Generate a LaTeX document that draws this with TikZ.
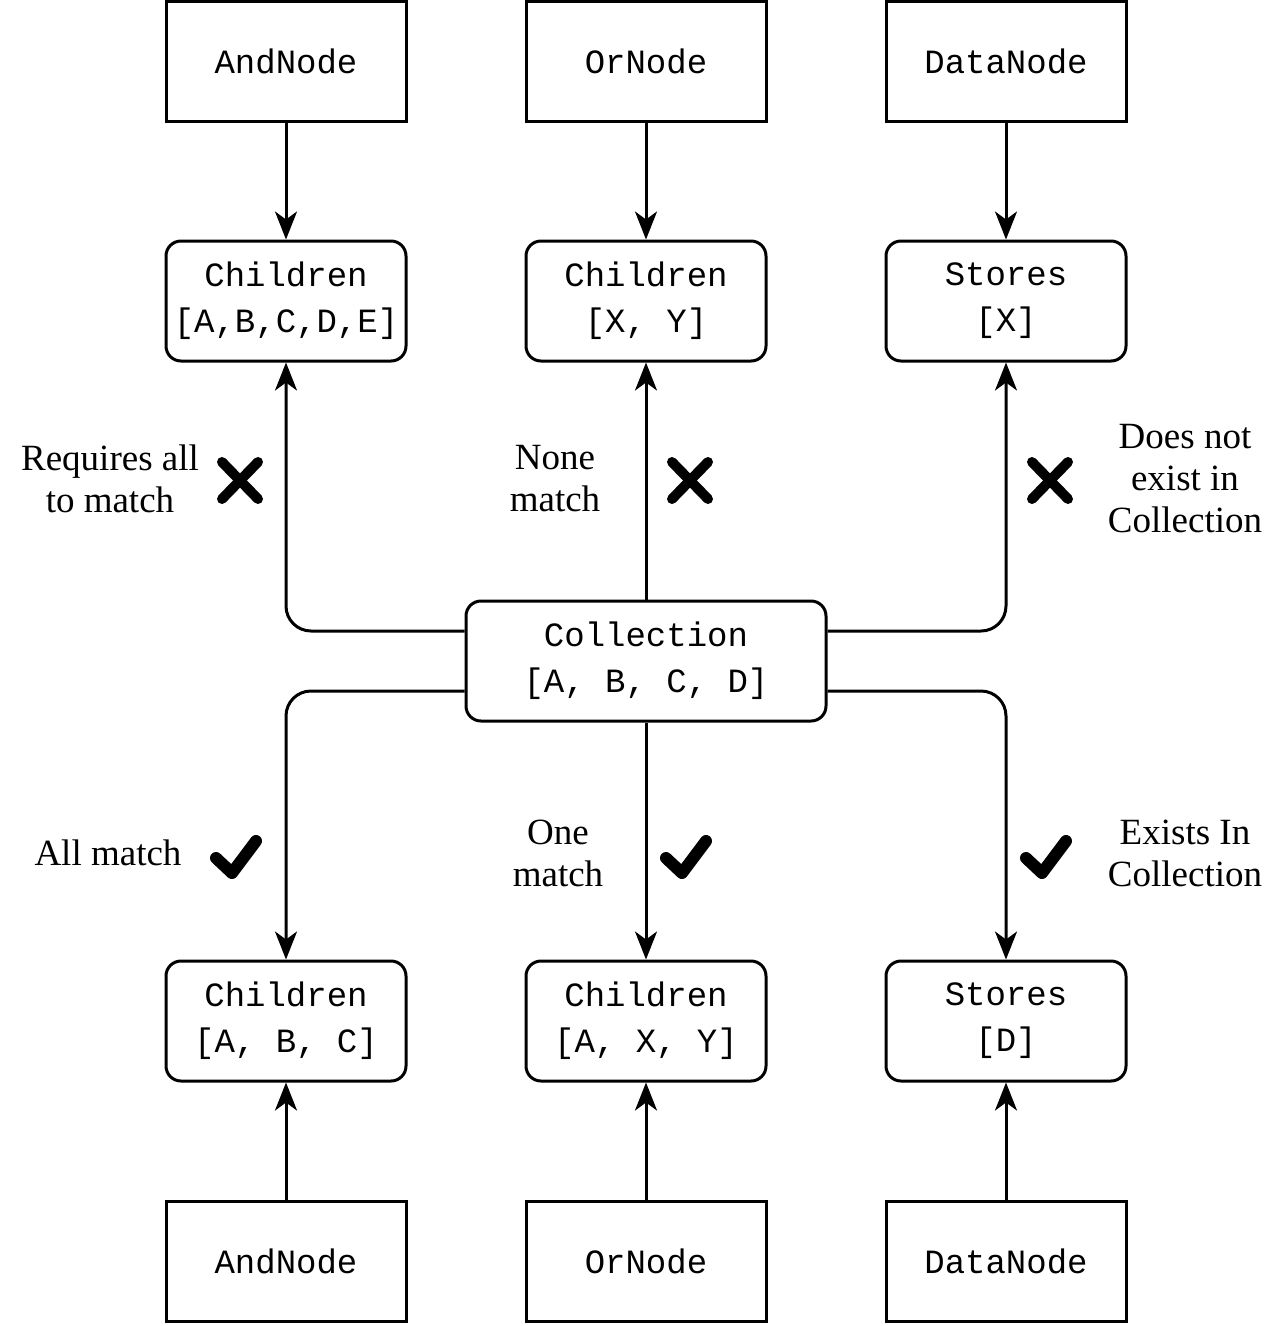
\documentclass[tikz,border=0pt]{standalone}
\usepackage{fontspec}
\setmainfont{Liberation Serif}
\setmonofont{Liberation Mono}
\usetikzlibrary{arrows.meta}
\begin{document}
\begin{tikzpicture}[x=1pt,y=-1pt,
  box/.style={draw,line width=3pt,minimum width=240pt,minimum height=120pt,align=center,inner sep=0pt,
    font=\fontsize{34}{46}\selectfont\ttfamily},
  rbox/.style={box,rounded corners=15pt},
  lbl/.style={align=center,inner sep=0pt,font=\fontsize{37}{42}\selectfont},
  conn/.style={line width=3pt,-{Stealth[length=28pt,width=22pt,inset=8pt]}},
  glyphstroke/.style={line width=10pt,line cap=round,line join=round}
]
\useasboundingbox (0,0) rectangle (1278,1326);
% top row
\node[box] (and1) at (286,61) {AndNode};
\node[box] (or1) at (646,61) {OrNode};
\node[box] (data1) at (1006,61) {DataNode};
\node[rbox] (ch1) at (286,301) {Children\\{}[A,B,C,D,E]};
\node[rbox] (ch2) at (646,301) {Children\\{}[X, Y]};
\node[rbox] (st1) at (1006,301) {Stores\\{}[X]};
% collection
\node[rbox,minimum width=360pt] (col) at (646,661) {Collection\\{}[A, B, C, D]};
% bottom rows
\node[rbox] (ch3) at (286,1021) {Children\\{}[A, B, C]};
\node[rbox] (ch4) at (646,1021) {Children\\{}[A, X, Y]};
\node[rbox] (st2) at (1006,1021) {Stores\\{}[D]};
\node[box] (and2) at (286,1261) {AndNode};
\node[box] (or2) at (646,1261) {OrNode};
\node[box] (data2) at (1006,1261) {DataNode};
% connectors
\draw[conn] (and1) -- (ch1);
\draw[conn] (or1) -- (ch2);
\draw[conn] (data1) -- (st1);
\draw[conn] (and2) -- (ch3);
\draw[conn] (or2) -- (ch4);
\draw[conn] (data2) -- (st2);
% from collection
\coordinate (cl1) at ([yshift=30pt]col.west);
\coordinate (cl2) at ([yshift=-30pt]col.west);
\coordinate (cr1) at ([yshift=30pt]col.east);
\coordinate (cr2) at ([yshift=-30pt]col.east);
\draw[conn,rounded corners=25pt] (cl1) -| (ch1.south);
\draw[conn,rounded corners=25pt] (cr1) -| (st1.south);
\draw[conn,rounded corners=25pt] (cl2) -| (ch3.north);
\draw[conn,rounded corners=25pt] (cr2) -| (st2.north);
\draw[conn] (col) -- (ch2);
\draw[conn] (col) -- (ch4);
% labels
\node[lbl] (l1) at (110,479) {Requires all\\to match};
\node[lbl] (l2) at (555,479) {None\\match};
\node[lbl] (l3) at (1185,479) {Does not\\exist in\\Collection};
\node[lbl] (l4) at (108,853) {All match};
\node[lbl] (l5) at (558,853) {One\\match};
\node[lbl] (l6) at (1185,853) {Exists In\\Collection};
% crosses
\foreach \cx in {240,690,1050}{
  \draw[glyphstroke] (\cx-18,462) -- (\cx+18,499);
  \draw[glyphstroke] (\cx-18,499) -- (\cx+18,462);
}
% checks
\foreach \cx in {238,688,1048}{
  \draw[glyphstroke,line width=12pt] (\cx-22,858) -- (\cx-6,873) -- (\cx+18,841);
}
\end{tikzpicture}
\end{document}
